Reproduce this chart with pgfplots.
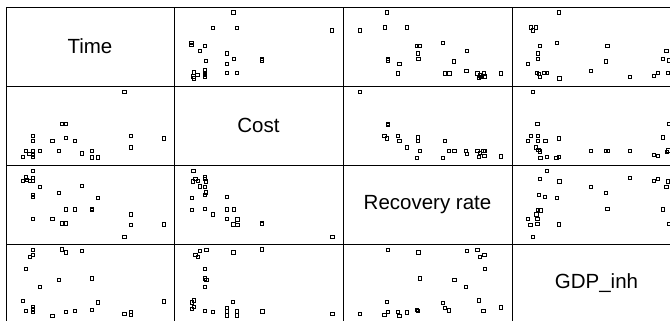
\documentclass[border=0pt]{standalone}
\usepackage{pgfplots}
\pgfplotsset{compat=1.18}
\usepackage{fontspec}
\setmainfont{Liberation Sans}
\pgfplotsset{
  panel/.style n args={4}{scale only axis, anchor=north west, at={(#1pt,-#2pt)},
    xmin=#1, xmax=#3, ymin=#2, ymax=#4, y dir=reverse, ticks=none,
    axis line style={line width=0.9pt, black}, clip=true},
  pts/.style={only marks, mark=square, mark size=1.7pt, black, mark options={line width=0.75pt, solid}},
}
\newcommand{\diaglabel}[1]{\node[font=\fontsize{20.5}{24}\selectfont] at (rel axis cs:0.5,0.5) {#1};}
\begin{document}
\begin{tikzpicture}
\useasboundingbox (0,0) rectangle (670pt,-321pt);
\clip (0,0) rectangle (670pt,-321pt);
% ---------- row 1 : Time ----------
\begin{axis}[panel={6}{7}{174}{86}, width=168pt, height=79pt]
\addplot[draw=none] coordinates {(90,46)};
\diaglabel{Time}
\end{axis}
\begin{axis}[panel={174}{7}{343}{86}, width=169pt, height=79pt]
\addplot[pts] coordinates {
(233.3,12.3) (212.7,27.7) (237.0,27.7) (331.7,30.3) (191.3,42.7) (191.3,45.0)
(205.0,45.7) (199.7,51.0) (226.7,53.3) (233.7,58.7) (262.0,59.0) (261.7,60.3)
(206.0,61.0) (226.7,64.0) (194.0,72.3) (197.3,74.7) (193.3,76.3) (193.7,78.3)
(205.0,70.3) (205.0,72.7) (205.0,74.7) (205.0,77.0) (226.7,72.7) (237.0,72.7)};
\end{axis}
\begin{axis}[panel={343}{7}{512}{86}, width=169pt, height=79pt]
\addplot[pts] coordinates {
(386.7,12.3) (359.7,30.3) (384.7,27.3) (407.0,27.3) (416.7,45.7) (419.3,45.7)
(442.7,43.0) (466.7,50.7) (417.7,53.3) (418.3,58.7) (388.0,59.0) (388.0,60.3)
(399.3,64.0) (454.0,61.3) (398.0,73.3) (444.7,73.3) (449.3,73.3) (466.3,70.7)
(477.3,73.3) (479.7,75.3) (479.0,77.7) (484.0,73.3) (485.0,76.3) (480.7,76.7)
(500.7,73.3)};
\end{axis}
\begin{axis}[panel={512}{7}{681}{86}, width=169pt, height=79pt]
\addplot[pts] coordinates {
(558.7,12.3) (530.7,27.3) (536.0,27.3) (532.7,30.3) (540.0,45.7) (556.7,43.0)
(607.3,45.7) (538.0,53.3) (537.7,58.7) (528.0,64.0) (605.7,61.3) (537.0,73.0)
(538.7,74.0) (544.3,73.0) (546.7,73.0) (539.7,77.0) (559.3,78.3) (591.0,70.7)
(629.7,77.0) (654.0,75.7) (658.0,73.0) (666.3,50.7) (663.0,58.7) (668.7,60.3)
(668.0,73.0)};
\end{axis}
% ---------- row 2 : Cost ----------
\begin{axis}[panel={6}{86}{174}{165}, width=168pt, height=79pt]
\addplot[pts] coordinates {
(124.3,92.0) (62.0,124.0) (66.0,124.0) (32.7,136.0) (32.7,141.0) (52.3,141.0)
(66.0,137.7) (75.0,141.0) (130.7,136.0) (163.7,138.3) (130.7,147.3) (26.0,150.7)
(32.7,150.7) (40.0,150.7) (58.7,150.7) (29.3,153.7) (32.7,154.7) (32.7,156.7)
(22.7,156.7) (82.0,153.3) (92.0,150.7) (92.0,157.3) (98.0,157.3)};
\end{axis}
\begin{axis}[panel={174}{86}{343}{165}, width=169pt, height=79pt]
\addplot[draw=none] coordinates {(258,125)};
\diaglabel{Cost}
\end{axis}
\begin{axis}[panel={343}{86}{512}{165}, width=169pt, height=79pt]
\addplot[pts] coordinates {
(359.7,92.0) (388.0,123.7) (388.0,124.7) (384.3,136.0) (386.7,138.3) (398.0,136.0)
(399.3,141.0) (418.0,137.3) (417.7,141.0) (407.0,147.3) (419.7,150.7) (416.7,157.7)
(445.0,141.0) (449.0,150.7) (454.3,150.7) (442.7,157.7) (466.0,150.7) (466.7,153.7)
(477.3,150.7) (479.7,152.7) (479.0,157.0) (483.3,150.7) (485.0,150.7) (484.3,155.7)
(500.7,156.3)};
\end{axis}
\begin{axis}[panel={512}{86}{681}{165}, width=169pt, height=79pt]
\addplot[pts] coordinates {
(532.7,92.0) (537.3,124.0) (530.7,135.7) (537.7,135.7) (528.0,141.0) (538.0,141.0)
(545.3,141.0) (558.7,138.3) (535.7,147.3) (538.3,150.0) (539.7,151.3) (540.3,157.7)
(546.7,156.7) (556.3,157.7) (559.0,156.7) (591.0,150.7) (605.7,150.7) (607.7,150.7)
(629.7,150.7) (654.0,154.7) (658.0,156.0) (663.0,137.3) (666.7,152.0) (668.3,150.3)
(668.7,123.7)};
\end{axis}
% ---------- row 3 : Recovery rate ----------
\begin{axis}[panel={6}{165}{174}{244}, width=168pt, height=79pt]
\addplot[pts] coordinates {
(32.7,170.7) (26.0,177.3) (22.7,180.7) (26.7,180.0) (30.0,180.7) (32.7,178.0)
(32.7,180.7) (40.0,187.0) (82.0,186.0) (58.7,192.7) (32.7,194.7) (32.7,197.0)
(98.0,197.7) (66.0,209.3) (75.0,209.3) (92.0,208.7) (92.0,210.0) (32.7,219.0)
(52.3,219.0) (62.0,223.3) (66.0,223.3) (130.7,214.3) (130.7,225.0) (163.7,224.3)
(124.3,237.0)};
\end{axis}
\begin{axis}[panel={174}{165}{343}{244}, width=169pt, height=79pt]
\addplot[pts] coordinates {
(193.3,170.7) (195.3,178.7) (193.0,181.3) (197.7,180.7) (205.0,177.3) (205.0,179.0)
(206.0,181.3) (199.7,186.3) (205.0,187.0) (206.0,192.3) (205.0,194.7) (191.7,197.7)
(226.7,197.0) (191.7,210.0) (205.0,208.7) (226.7,209.3) (233.7,209.3) (212.7,214.3)
(226.7,218.7) (237.3,219.3) (233.3,224.3) (237.3,225.0) (262.0,223.3) (262.0,224.0)
(332.3,237.0)};
\end{axis}
\begin{axis}[panel={343}{165}{512}{244}, width=169pt, height=79pt]
\addplot[draw=none] coordinates {(427,204)};
\diaglabel{Recovery rate}
\end{axis}
\begin{axis}[panel={512}{165}{681}{244}, width=169pt, height=79pt]
\addplot[pts] coordinates {
(546.7,170.7) (539.7,179.0) (559.3,181.3) (591.0,187.0) (629.7,178.0) (654.0,181.0)
(658.0,178.7) (666.3,186.7) (668.0,181.3) (605.7,192.7) (538.7,194.7) (545.0,197.0)
(556.7,197.7) (538.0,209.7) (540.3,210.3) (536.3,214.3) (528.0,219.0) (537.3,219.0)
(537.3,223.7) (530.3,225.0) (558.7,224.3) (532.7,237.0) (607.3,208.7) (663.0,209.3)
(668.7,223.7)};
\end{axis}
% ---------- row 4 : GDP_inh ----------
\begin{axis}[panel={6}{244}{174}{323}, width=168pt, height=79pt]
\addplot[pts] coordinates {
(32.7,250.0) (32.7,255.0) (30.0,256.7) (62.0,249.3) (66.0,252.3) (82.0,251.0)
(26.0,268.7) (58.7,279.7) (92.0,278.3) (40.0,287.0) (22.7,300.7) (98.0,302.3)
(163.7,301.3) (26.0,310.7) (32.7,307.0) (32.7,309.3) (32.7,311.7) (52.3,315.7)
(66.0,311.7) (75.0,310.7) (92.0,310.0) (124.3,314.0) (130.7,311.7) (130.7,314.7)};
\end{axis}
\begin{axis}[panel={174}{244}{343}{323}, width=169pt, height=79pt]
\addplot[pts] coordinates {
(199.7,250.7) (206.3,250.0) (195.3,255.0) (197.7,256.7) (233.3,252.3) (261.7,249.3)
(205.0,268.7) (205.0,278.3) (206.3,279.7) (205.0,287.0) (193.7,300.3) (191.7,302.3)
(193.7,307.0) (191.7,309.0) (205.0,310.7) (212.7,312.0) (226.7,307.7) (226.7,311.3)
(226.7,315.3) (233.0,301.7) (237.0,311.3) (237.0,315.3) (262.3,311.3) (332.3,313.7)};
\end{axis}
\begin{axis}[panel={343}{244}{512}{323}, width=169pt, height=79pt]
\addplot[pts] coordinates {
(388.0,249.7) (418.3,252.3) (466.7,250.7) (477.3,250.0) (479.7,256.7) (484.3,255.0)
(485.0,268.7) (419.7,278.3) (454.3,279.7) (466.0,286.7) (386.7,301.7) (442.7,302.7)
(479.0,300.3) (359.7,313.7) (384.3,315.0) (388.0,311.7) (398.0,311.7) (399.3,315.7)
(407.0,312.3) (416.7,310.0) (417.7,311.0) (445.0,307.7) (449.0,310.3) (483.3,310.7)
(500.7,307.3)};
\end{axis}
\begin{axis}[panel={512}{244}{681}{323}, width=169pt, height=79pt]
\addplot[draw=none] coordinates {(596,283)};
\diaglabel{GDP\_inh}
\end{axis}
\end{tikzpicture}
\end{document}
